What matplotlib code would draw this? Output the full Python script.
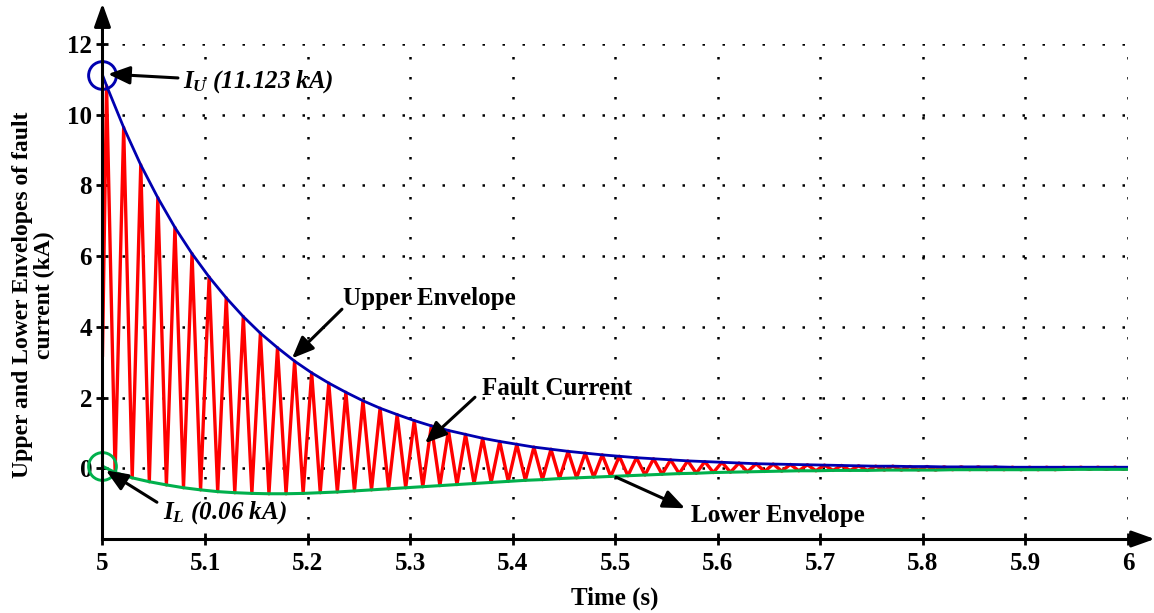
import numpy as np
import matplotlib
matplotlib.use("Agg")
import matplotlib.pyplot as plt

plt.rcParams['font.family'] = ['Liberation Serif', 'DejaVu Serif']
plt.rcParams['font.weight'] = 'bold'
plt.rcParams['mathtext.fontset'] = 'custom'
plt.rcParams['mathtext.it'] = 'Liberation Serif:bold:italic'
plt.rcParams['mathtext.rm'] = 'Liberation Serif:bold'
plt.rcParams['mathtext.bf'] = 'Liberation Serif:bold'

# ---------------- data ----------------
t_start = 5.0
t_end = 6.0
i_start = 3.2            # fault current at t = 5 s (kA)
i_end = 0.0              # fault current at t = 6 s (kA)
I_U = 11.123             # upper envelope at fault inception (kA)
I_L = 0.06               # lower envelope at fault inception (kA)
upper_end = 0.03         # upper envelope at t = 6 s (kA)
lower_end = -0.03        # lower envelope at t = 6 s (kA)
first_peak_time = 5.004  # s
period = 1.0 / 60.0      # s (60 Hz)

# upper envelope / positive peaks of the fault current, one per cycle (kA)
upper_peaks = [10.82, 9.64, 8.58, 7.65, 6.81, 6.07, 5.41, 4.82, 4.29, 3.82,
               3.41, 3.03, 2.70, 2.41, 2.15, 1.91, 1.70, 1.52, 1.35, 1.20,
               1.07, 0.96, 0.85, 0.76, 0.68, 0.60, 0.54, 0.48, 0.43, 0.38,
               0.34, 0.30, 0.27, 0.24, 0.21, 0.19, 0.17, 0.15, 0.13, 0.12,
               0.11, 0.10, 0.09, 0.08, 0.07, 0.06, 0.06, 0.05, 0.05, 0.04,
               0.04, 0.04, 0.04, 0.03, 0.03, 0.03, 0.03, 0.03, 0.03, 0.03]

# lower envelope / negative peaks of the fault current, one per cycle (kA)
lower_troughs = [-0.12, -0.27, -0.38, -0.47, -0.55, -0.61, -0.66, -0.69, -0.71, -0.72,
                 -0.72, -0.71, -0.69, -0.67, -0.64, -0.61, -0.58, -0.55, -0.52, -0.49,
                 -0.46, -0.43, -0.40, -0.37, -0.34, -0.32, -0.29, -0.27, -0.25, -0.23,
                 -0.21, -0.19, -0.17, -0.15, -0.14, -0.12, -0.11, -0.10, -0.09, -0.08,
                 -0.07, -0.07, -0.06, -0.06, -0.06, -0.05, -0.05, -0.05, -0.05, -0.04,
                 -0.04, -0.04, -0.04, -0.04, -0.04, -0.04, -0.03, -0.03, -0.03, -0.03]

x_ticks = [5.0, 5.1, 5.2, 5.3, 5.4, 5.5, 5.6, 5.7, 5.8, 5.9, 6.0]
x_tick_labels = ['5', '5.1', '5.2', '5.3', '5.4', '5.5', '5.6', '5.7', '5.8', '5.9', '6']
y_ticks = [0, 2, 4, 6, 8, 10, 12]
y_tick_labels = ['0', '2', '4', '6', '8', '10', '12']

# ---------------- derived series ----------------
n = len(upper_peaks)
peak_t = first_peak_time + period * np.arange(n)
trough_t = peak_t + period / 2.0

fault_t = [t_start]
fault_i = [i_start]
for k in range(n):
    fault_t += [peak_t[k], trough_t[k]]
    fault_i += [upper_peaks[k], lower_troughs[k]]
fault_t.append(t_end)
fault_i.append(i_end)

up_t = np.concatenate([[t_start], peak_t, [t_end]])
up_v = np.concatenate([[I_U], upper_peaks, [upper_end]])
lo_t = np.concatenate([[t_start], trough_t, [t_end]])
lo_v = np.concatenate([[I_L], lower_troughs, [lower_end]])

RED = '#ff0000'
BLUE = '#0000b0'
GREEN = '#00b04c'

fig = plt.figure(figsize=(11.54, 6.13), dpi=100)
ax = fig.add_axes([0.0888, 0.1207, 0.8887, 0.8075])

ax.plot(fault_t, fault_i, color=RED, lw=2.4, zorder=3, solid_joinstyle='round')
ax.plot(up_t, up_v, color=BLUE, lw=2.0, zorder=4)
ax.plot(lo_t, lo_v, color=GREEN, lw=2.2, zorder=4)

# circles marking I_U and I_L
ax.plot([t_start], [I_U], marker='o', ms=20, mfc='none', mec=BLUE, mew=2.1,
        zorder=6, clip_on=False)
ax.plot([t_start], [I_L], marker='o', ms=20, mfc='none', mec=GREEN, mew=2.1,
        zorder=6, clip_on=False)

ax.set_xlim(5.0, 6.0)
ax.set_ylim(-2, 12)
ax.set_xticks(x_ticks)
ax.set_xticklabels(x_tick_labels)
ax.set_yticks(y_ticks)
ax.set_yticklabels(y_tick_labels)
ax.tick_params(direction='inout', length=9, width=2, labelsize=18, colors='black')
ax.tick_params(axis='x', pad=5)
ax.tick_params(axis='y', pad=3)

ax.grid(True, color='black', linestyle=(0, (1, 7)), linewidth=1.8)
ax.set_axisbelow(True)

for s in ['top', 'right']:
    ax.spines[s].set_visible(False)
for s in ['left', 'bottom']:
    ax.spines[s].set_linewidth(2.2)
    ax.spines[s].set_zorder(7)

# axis arrows
arrow_kw = dict(arrowstyle='-|>,head_length=0.7,head_width=0.25', color='black',
                lw=2.2, mutation_scale=20, shrinkA=0, shrinkB=0)
ax.annotate('', xy=(0, 1.082), xytext=(0, 1.0), xycoords='axes fraction',
            textcoords='axes fraction', arrowprops=arrow_kw, annotation_clip=False)
ax.annotate('', xy=(1.026, 0), xytext=(1.0, 0), xycoords='axes fraction',
            textcoords='axes fraction', arrowprops=arrow_kw, annotation_clip=False)

ax.set_xlabel('Time (s)', fontsize=18, fontweight='bold')
ax.xaxis.set_label_coords(0.4998, -0.097)
ax.set_ylabel('Upper and Lower Envelopes of fault\ncurrent (kA)', fontsize=17,
              fontweight='bold', linespacing=1.05)
ax.yaxis.set_label_coords(-0.046, 0.493)

# annotations
ann_kw = dict(arrowstyle='-|>,head_length=0.6,head_width=0.25', color='black',
              lw=2.2, mutation_scale=22, shrinkA=0, shrinkB=0)

def note(text, tx, ty, tail, tip, italic=False):
    ax.text(tx, ty, text, fontsize=18, fontweight='bold',
            fontstyle='italic' if italic else 'normal', va='center', ha='left', zorder=8)
    ax.annotate('', xy=tip, xytext=tail, arrowprops=ann_kw, zorder=8,
                annotation_clip=False)

note(r'$I_U$' + ' (11.123 kA)', 5.0785, 10.93, (5.0736, 11.04), (5.0054, 11.15), italic=True)
note('Upper Envelope', 5.2345, 4.81, (5.2335, 4.50), (5.1848, 3.11))
note('Fault Current', 5.370, 2.26, (5.3632, 2.01), (5.3145, 0.71))
note('Lower Envelope', 5.574, -1.33, (5.5008, -0.25), (5.568, -1.13))
note(r'$I_L$' + ' (0.06 kA)', 5.059, -1.245, (5.0531, -0.96), (5.0034, -0.06), italic=True)

fig.savefig('out.png', dpi=100)
